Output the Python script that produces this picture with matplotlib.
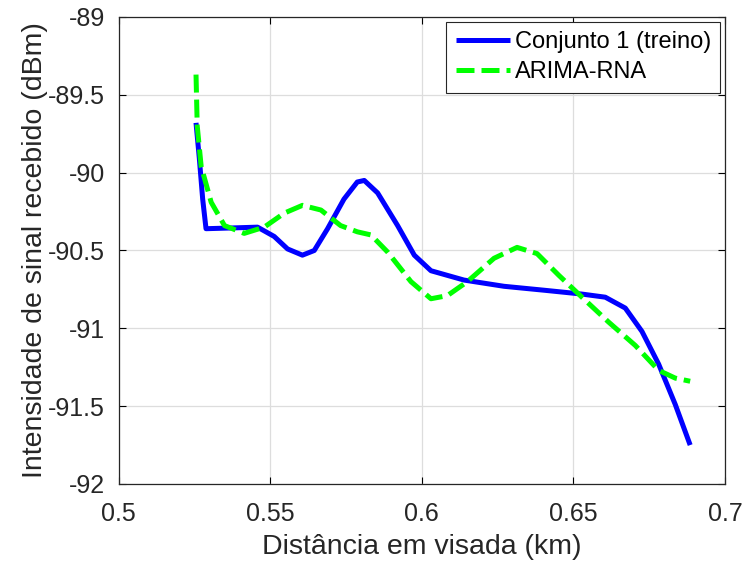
import numpy as np
import matplotlib.pyplot as plt

plt.rcParams["font.family"] = ["Liberation Sans", "DejaVu Sans"]

# Conjunto 1 (treino)
dist_treino = [0.5255, 0.5266, 0.5277, 0.5288, 0.5360, 0.5458, 0.5513, 0.5557,
               0.5606, 0.5645, 0.5689, 0.5743, 0.5787, 0.5810, 0.5854, 0.5920,
               0.5975, 0.6030, 0.6139, 0.6271, 0.6402, 0.6528, 0.6605, 0.6671,
               0.6726, 0.6781, 0.6836, 0.6885]
rssi_treino = [-89.68, -89.91, -90.17, -90.36, -90.356, -90.35, -90.41, -90.49,
               -90.53, -90.50, -90.36, -90.17, -90.06, -90.05, -90.13, -90.34,
               -90.53, -90.63, -90.69, -90.73, -90.755, -90.78, -90.80, -90.87,
               -91.02, -91.23, -91.49, -91.75]

# ARIMA-RNA
dist_arima = [0.5255, 0.5259, 0.5272, 0.5305, 0.5349, 0.5414, 0.5480, 0.5546,
              0.5606, 0.5667, 0.5732, 0.5787, 0.5832, 0.5887, 0.5964, 0.6030,
              0.6084, 0.6150, 0.6238, 0.6314, 0.6380, 0.6452, 0.6528, 0.6616,
              0.6704, 0.6781, 0.6836, 0.6885]
rssi_arima = [-89.37, -89.70, -89.96, -90.19, -90.34, -90.39, -90.35, -90.26,
              -90.21, -90.24, -90.34, -90.38, -90.40, -90.51, -90.70, -90.81,
              -90.79, -90.70, -90.55, -90.48, -90.52, -90.66, -90.80, -90.96,
              -91.11, -91.27, -91.32, -91.34]

fig = plt.figure(figsize=(7.48, 5.74), dpi=100)
ax = fig.add_axes([0.1587, 0.1568, 0.8106, 0.8136])

ax.plot(dist_treino, rssi_treino, "-", color="#0000ff", linewidth=3.6,
        solid_joinstyle="round", solid_capstyle="butt",
        label="Conjunto 1 (treino)")
ax.plot(dist_arima, rssi_arima, "--", color="#00ff00", linewidth=3.6,
        dashes=(3.6, 1.4), dash_joinstyle="round", label="ARIMA-RNA")

ax.set_xlim(0.5, 0.7)
ax.set_ylim(-92, -89)
ax.set_xticks([0.5, 0.55, 0.6, 0.65, 0.7])
ax.set_xticklabels(["0.5", "0.55", "0.6", "0.65", "0.7"])
ax.set_yticks([-92, -91.5, -91, -90.5, -90, -89.5, -89])
ax.set_yticklabels(["-92", "-91.5", "-91", "-90.5", "-90", "-89.5", "-89"])
ax.tick_params(direction="in", top=True, right=True, labelsize=18, length=5,
               width=0.8, labelcolor="#262626")
ax.tick_params(axis="x", pad=13)
ax.tick_params(axis="y", pad=10)
ax.grid(True, color="#dddddd", linewidth=0.9)
ax.set_axisbelow(True)
for s in ax.spines.values():
    s.set_linewidth(0.9)
    s.set_color("#262626")

ax.set_xlabel("Distância em visada (km)", fontsize=20.5, color="#262626",
              labelpad=6)
ax.set_ylabel("Intensidade de sinal recebido (dBm)", fontsize=20.5,
              color="#262626", labelpad=0)

leg = ax.legend(loc="upper right", fontsize=17, frameon=True, fancybox=False,
                borderaxespad=0.2, handlelength=2.3, handletextpad=0.2,
                borderpad=0.4, labelspacing=0.35, framealpha=1)
leg.get_frame().set_edgecolor("#262626")
leg.get_frame().set_linewidth(0.8)

fig.savefig("out.png", dpi=100)
